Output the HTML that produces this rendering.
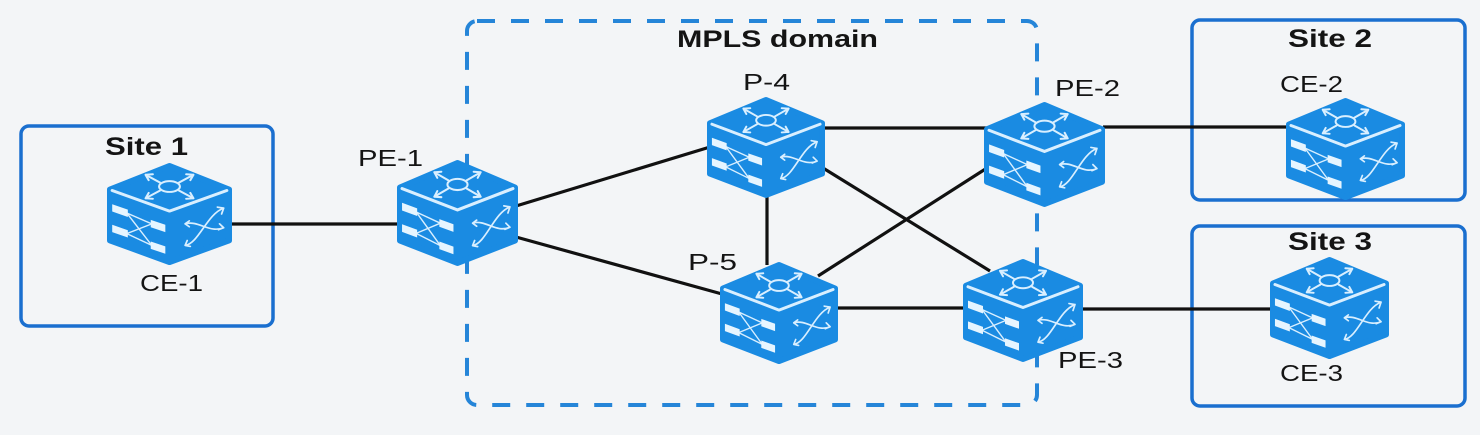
<!DOCTYPE html>
<html>
<head>
<meta charset="utf-8">
<style>
  html,body{margin:0;padding:0;background:#f3f5f7;}
  svg{display:block;}
  text{font-family:"Liberation Sans", Arial, sans-serif; fill:#141414;}
  .lb{font-size:23px;}
  .bd{font-size:25px;font-weight:bold;}
</style>
</head>
<body>
<svg width="1480" height="435" viewBox="0 0 1480 435" xmlns="http://www.w3.org/2000/svg">
  <rect x="0" y="0" width="1480" height="435" fill="#f3f5f7"/>

  <!-- Site boxes -->
  <rect x="21" y="126" width="252" height="200" rx="8" fill="none" stroke="#1a6fcf" stroke-width="3.5"/>
  <rect x="1192" y="20" width="273" height="180" rx="8" fill="none" stroke="#1a6fcf" stroke-width="3.5"/>
  <rect x="1192" y="226" width="273" height="180" rx="8" fill="none" stroke="#1a6fcf" stroke-width="3.5"/>

  <!-- MPLS domain dashed box -->
  <rect x="467" y="21" width="570" height="384" rx="10" fill="none" stroke="#2585d8" stroke-width="4" stroke-dasharray="18 16"/>

  <!-- Links -->
  <g stroke="#111" stroke-width="3.2" fill="none">
    <line x1="230" y1="224" x2="400" y2="224"/>
    <line x1="516" y1="206" x2="710" y2="147"/>
    <line x1="516" y1="237" x2="722" y2="294"/>
    <line x1="823" y1="128" x2="987" y2="128"/>
    <line x1="823" y1="168" x2="990" y2="271"/>
    <line x1="818" y1="276" x2="987" y2="168"/>
    <line x1="767" y1="195" x2="767" y2="265"/>
    <line x1="836" y1="308" x2="966" y2="308"/>
    <line x1="1103" y1="127" x2="1288" y2="127"/>
    <line x1="1081" y1="309" x2="1272" y2="309"/>
  </g>

  <!-- Switch icons -->
  <!-- CE-1 -->
  <g transform="translate(107,163) scale(1.0417,0.981)">
    <path d="M60,3 L117,27 L117,79 L60,101 L3,79 L3,27 Z" fill="#1a8be2" stroke="#1a8be2" stroke-width="6" stroke-linejoin="round"/>
    <g fill="none" stroke="#d9efff" stroke-width="2" stroke-linecap="round" stroke-linejoin="round">
      <path d="M5,28 L60,49 L115,28" stroke-width="3"/>
      <ellipse cx="60" cy="24" rx="10" ry="5.5"/>
      <path d="M51,20 L37,12 M44,11.5 L37,12 L40,17.5 M69,20 L83,12 M76,11.5 L83,12 L80,17.5 M51,28 L37,36 M40,30.5 L37,36 L44,36.5 M69,28 L83,36 M80,30.5 L83,36 L76,36.5"/>
      <path d="M19,51 L43,62 M19,51 L43,84 M19,72 L43,62 M19,72 L43,84" stroke-width="1.4"/>
      <path d="M75,84 C88,82 96,52 112,46 M75,62 C88,58 98,72 112,66 M106,45 L112,46 L110,52 M77,79 L75,84 L80,85 M79,59 L75,62 L79,65 M108,62 L112,66 L107,68" stroke-width="1.7"/>
    </g>
    <path d="M5,42 L20,47.5 L20,55 L5,49.5 Z M5,63 L20,68.5 L20,76 L5,70.5 Z M42,58 L56,63 L56,70.5 L42,65.5 Z M42,80 L56,85 L56,92.5 L42,87.5 Z" fill="#e6f5ff"/>
  </g>
  <!-- PE-1 -->
  <g transform="translate(397,160) scale(1.0083,1.019)">
    <path d="M60,3 L117,27 L117,79 L60,101 L3,79 L3,27 Z" fill="#1a8be2" stroke="#1a8be2" stroke-width="6" stroke-linejoin="round"/>
    <g fill="none" stroke="#d9efff" stroke-width="2" stroke-linecap="round" stroke-linejoin="round">
      <path d="M5,28 L60,49 L115,28" stroke-width="3"/>
      <ellipse cx="60" cy="24" rx="10" ry="5.5"/>
      <path d="M51,20 L37,12 M44,11.5 L37,12 L40,17.5 M69,20 L83,12 M76,11.5 L83,12 L80,17.5 M51,28 L37,36 M40,30.5 L37,36 L44,36.5 M69,28 L83,36 M80,30.5 L83,36 L76,36.5"/>
      <path d="M19,51 L43,62 M19,51 L43,84 M19,72 L43,62 M19,72 L43,84" stroke-width="1.4"/>
      <path d="M75,84 C88,82 96,52 112,46 M75,62 C88,58 98,72 112,66 M106,45 L112,46 L110,52 M77,79 L75,84 L80,85 M79,59 L75,62 L79,65 M108,62 L112,66 L107,68" stroke-width="1.7"/>
    </g>
    <path d="M5,42 L20,47.5 L20,55 L5,49.5 Z M5,63 L20,68.5 L20,76 L5,70.5 Z M42,58 L56,63 L56,70.5 L42,65.5 Z M42,80 L56,85 L56,92.5 L42,87.5 Z" fill="#e6f5ff"/>
  </g>
  <!-- P-4 -->
  <g transform="translate(707,97) scale(0.9833,0.971)">
    <path d="M60,3 L117,27 L117,79 L60,101 L3,79 L3,27 Z" fill="#1a8be2" stroke="#1a8be2" stroke-width="6" stroke-linejoin="round"/>
    <g fill="none" stroke="#d9efff" stroke-width="2" stroke-linecap="round" stroke-linejoin="round">
      <path d="M5,28 L60,49 L115,28" stroke-width="3"/>
      <ellipse cx="60" cy="24" rx="10" ry="5.5"/>
      <path d="M51,20 L37,12 M44,11.5 L37,12 L40,17.5 M69,20 L83,12 M76,11.5 L83,12 L80,17.5 M51,28 L37,36 M40,30.5 L37,36 L44,36.5 M69,28 L83,36 M80,30.5 L83,36 L76,36.5"/>
      <path d="M19,51 L43,62 M19,51 L43,84 M19,72 L43,62 M19,72 L43,84" stroke-width="1.4"/>
      <path d="M75,84 C88,82 96,52 112,46 M75,62 C88,58 98,72 112,66 M106,45 L112,46 L110,52 M77,79 L75,84 L80,85 M79,59 L75,62 L79,65 M108,62 L112,66 L107,68" stroke-width="1.7"/>
    </g>
    <path d="M5,42 L20,47.5 L20,55 L5,49.5 Z M5,63 L20,68.5 L20,76 L5,70.5 Z M42,58 L56,63 L56,70.5 L42,65.5 Z M42,80 L56,85 L56,92.5 L42,87.5 Z" fill="#e6f5ff"/>
  </g>
  <!-- PE-2 -->
  <g transform="translate(984,102) scale(1.0083,1.0096)">
    <path d="M60,3 L117,27 L117,79 L60,101 L3,79 L3,27 Z" fill="#1a8be2" stroke="#1a8be2" stroke-width="6" stroke-linejoin="round"/>
    <g fill="none" stroke="#d9efff" stroke-width="2" stroke-linecap="round" stroke-linejoin="round">
      <path d="M5,28 L60,49 L115,28" stroke-width="3"/>
      <ellipse cx="60" cy="24" rx="10" ry="5.5"/>
      <path d="M51,20 L37,12 M44,11.5 L37,12 L40,17.5 M69,20 L83,12 M76,11.5 L83,12 L80,17.5 M51,28 L37,36 M40,30.5 L37,36 L44,36.5 M69,28 L83,36 M80,30.5 L83,36 L76,36.5"/>
      <path d="M19,51 L43,62 M19,51 L43,84 M19,72 L43,62 M19,72 L43,84" stroke-width="1.4"/>
      <path d="M75,84 C88,82 96,52 112,46 M75,62 C88,58 98,72 112,66 M106,45 L112,46 L110,52 M77,79 L75,84 L80,85 M79,59 L75,62 L79,65 M108,62 L112,66 L107,68" stroke-width="1.7"/>
    </g>
    <path d="M5,42 L20,47.5 L20,55 L5,49.5 Z M5,63 L20,68.5 L20,76 L5,70.5 Z M42,58 L56,63 L56,70.5 L42,65.5 Z M42,80 L56,85 L56,92.5 L42,87.5 Z" fill="#e6f5ff"/>
  </g>
  <!-- P-5 -->
  <g transform="translate(720,262) scale(0.9833,0.981)">
    <path d="M60,3 L117,27 L117,79 L60,101 L3,79 L3,27 Z" fill="#1a8be2" stroke="#1a8be2" stroke-width="6" stroke-linejoin="round"/>
    <g fill="none" stroke="#d9efff" stroke-width="2" stroke-linecap="round" stroke-linejoin="round">
      <path d="M5,28 L60,49 L115,28" stroke-width="3"/>
      <ellipse cx="60" cy="24" rx="10" ry="5.5"/>
      <path d="M51,20 L37,12 M44,11.5 L37,12 L40,17.5 M69,20 L83,12 M76,11.5 L83,12 L80,17.5 M51,28 L37,36 M40,30.5 L37,36 L44,36.5 M69,28 L83,36 M80,30.5 L83,36 L76,36.5"/>
      <path d="M19,51 L43,62 M19,51 L43,84 M19,72 L43,62 M19,72 L43,84" stroke-width="1.4"/>
      <path d="M75,84 C88,82 96,52 112,46 M75,62 C88,58 98,72 112,66 M106,45 L112,46 L110,52 M77,79 L75,84 L80,85 M79,59 L75,62 L79,65 M108,62 L112,66 L107,68" stroke-width="1.7"/>
    </g>
    <path d="M5,42 L20,47.5 L20,55 L5,49.5 Z M5,63 L20,68.5 L20,76 L5,70.5 Z M42,58 L56,63 L56,70.5 L42,65.5 Z M42,80 L56,85 L56,92.5 L42,87.5 Z" fill="#e6f5ff"/>
  </g>
  <!-- PE-3 -->
  <g transform="translate(963,259) scale(1,0.99)">
    <path d="M60,3 L117,27 L117,79 L60,101 L3,79 L3,27 Z" fill="#1a8be2" stroke="#1a8be2" stroke-width="6" stroke-linejoin="round"/>
    <g fill="none" stroke="#d9efff" stroke-width="2" stroke-linecap="round" stroke-linejoin="round">
      <path d="M5,28 L60,49 L115,28" stroke-width="3"/>
      <ellipse cx="60" cy="24" rx="10" ry="5.5"/>
      <path d="M51,20 L37,12 M44,11.5 L37,12 L40,17.5 M69,20 L83,12 M76,11.5 L83,12 L80,17.5 M51,28 L37,36 M40,30.5 L37,36 L44,36.5 M69,28 L83,36 M80,30.5 L83,36 L76,36.5"/>
      <path d="M19,51 L43,62 M19,51 L43,84 M19,72 L43,62 M19,72 L43,84" stroke-width="1.4"/>
      <path d="M75,84 C88,82 96,52 112,46 M75,62 C88,58 98,72 112,66 M106,45 L112,46 L110,52 M77,79 L75,84 L80,85 M79,59 L75,62 L79,65 M108,62 L112,66 L107,68" stroke-width="1.7"/>
    </g>
    <path d="M5,42 L20,47.5 L20,55 L5,49.5 Z M5,63 L20,68.5 L20,76 L5,70.5 Z M42,58 L56,63 L56,70.5 L42,65.5 Z M42,80 L56,85 L56,92.5 L42,87.5 Z" fill="#e6f5ff"/>
  </g>
  <!-- CE-2 -->
  <g transform="translate(1286,98) scale(0.9917,0.981)">
    <path d="M60,3 L117,27 L117,79 L60,101 L3,79 L3,27 Z" fill="#1a8be2" stroke="#1a8be2" stroke-width="6" stroke-linejoin="round"/>
    <g fill="none" stroke="#d9efff" stroke-width="2" stroke-linecap="round" stroke-linejoin="round">
      <path d="M5,28 L60,49 L115,28" stroke-width="3"/>
      <ellipse cx="60" cy="24" rx="10" ry="5.5"/>
      <path d="M51,20 L37,12 M44,11.5 L37,12 L40,17.5 M69,20 L83,12 M76,11.5 L83,12 L80,17.5 M51,28 L37,36 M40,30.5 L37,36 L44,36.5 M69,28 L83,36 M80,30.5 L83,36 L76,36.5"/>
      <path d="M19,51 L43,62 M19,51 L43,84 M19,72 L43,62 M19,72 L43,84" stroke-width="1.4"/>
      <path d="M75,84 C88,82 96,52 112,46 M75,62 C88,58 98,72 112,66 M106,45 L112,46 L110,52 M77,79 L75,84 L80,85 M79,59 L75,62 L79,65 M108,62 L112,66 L107,68" stroke-width="1.7"/>
    </g>
    <path d="M5,42 L20,47.5 L20,55 L5,49.5 Z M5,63 L20,68.5 L20,76 L5,70.5 Z M42,58 L56,63 L56,70.5 L42,65.5 Z M42,80 L56,85 L56,92.5 L42,87.5 Z" fill="#e6f5ff"/>
  </g>
  <!-- CE-3 -->
  <g transform="translate(1270,257) scale(0.9917,0.981)">
    <path d="M60,3 L117,27 L117,79 L60,101 L3,79 L3,27 Z" fill="#1a8be2" stroke="#1a8be2" stroke-width="6" stroke-linejoin="round"/>
    <g fill="none" stroke="#d9efff" stroke-width="2" stroke-linecap="round" stroke-linejoin="round">
      <path d="M5,28 L60,49 L115,28" stroke-width="3"/>
      <ellipse cx="60" cy="24" rx="10" ry="5.5"/>
      <path d="M51,20 L37,12 M44,11.5 L37,12 L40,17.5 M69,20 L83,12 M76,11.5 L83,12 L80,17.5 M51,28 L37,36 M40,30.5 L37,36 L44,36.5 M69,28 L83,36 M80,30.5 L83,36 L76,36.5"/>
      <path d="M19,51 L43,62 M19,51 L43,84 M19,72 L43,62 M19,72 L43,84" stroke-width="1.4"/>
      <path d="M75,84 C88,82 96,52 112,46 M75,62 C88,58 98,72 112,66 M106,45 L112,46 L110,52 M77,79 L75,84 L80,85 M79,59 L75,62 L79,65 M108,62 L112,66 L107,68" stroke-width="1.7"/>
    </g>
    <path d="M5,42 L20,47.5 L20,55 L5,49.5 Z M5,63 L20,68.5 L20,76 L5,70.5 Z M42,58 L56,63 L56,70.5 L42,65.5 Z M42,80 L56,85 L56,92.5 L42,87.5 Z" fill="#e6f5ff"/>
  </g>

  <!-- Labels -->
  <text class="bd" x="105" y="155" textLength="83" lengthAdjust="spacingAndGlyphs">Site 1</text>
  <text class="lb" x="140" y="291" textLength="63" lengthAdjust="spacingAndGlyphs">CE-1</text>
  <text class="lb" x="358" y="166" textLength="65" lengthAdjust="spacingAndGlyphs">PE-1</text>
  <text x="677" y="47" font-size="24" font-weight="bold" textLength="201" lengthAdjust="spacingAndGlyphs">MPLS domain</text>
  <text class="lb" x="743" y="90" textLength="47" lengthAdjust="spacingAndGlyphs">P-4</text>
  <text class="lb" x="1055" y="96" textLength="65" lengthAdjust="spacingAndGlyphs">PE-2</text>
  <text class="lb" x="688" y="270" textLength="49" lengthAdjust="spacingAndGlyphs">P-5</text>
  <text class="lb" x="1058" y="368" textLength="65" lengthAdjust="spacingAndGlyphs">PE-3</text>
  <text class="bd" x="1288" y="47" textLength="84" lengthAdjust="spacingAndGlyphs">Site 2</text>
  <text class="lb" x="1280" y="92" textLength="63" lengthAdjust="spacingAndGlyphs">CE-2</text>
  <text class="bd" x="1288" y="250" textLength="84" lengthAdjust="spacingAndGlyphs">Site 3</text>
  <text class="lb" x="1280" y="381" textLength="63" lengthAdjust="spacingAndGlyphs">CE-3</text>
</svg>
</body>
</html>
